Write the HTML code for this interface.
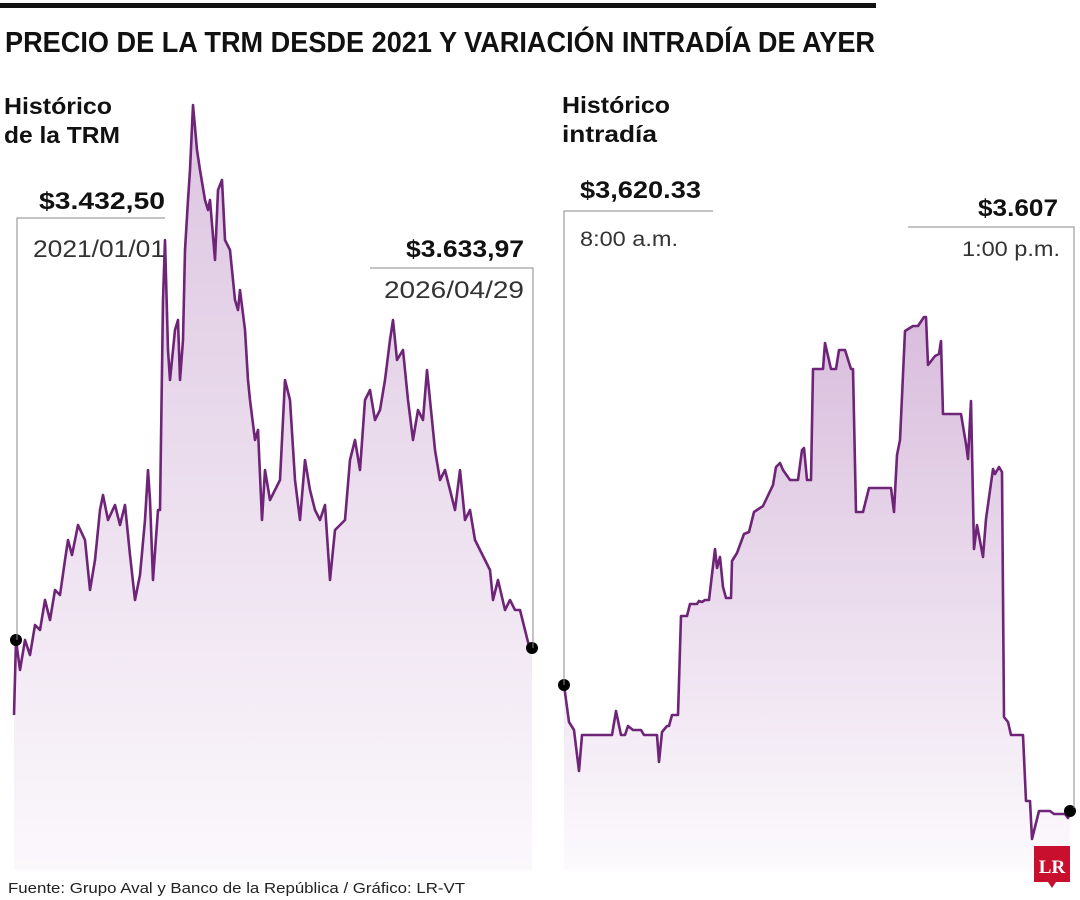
<!DOCTYPE html>
<html><head><meta charset="utf-8"><style>
body{margin:0;background:#fff}
svg{display:block}
text{font-family:"Liberation Sans",sans-serif}
</style></head><body>
<svg id="c" width="1080" height="900" viewBox="0 0 1080 900">
<defs>
<linearGradient id="gl" gradientUnits="userSpaceOnUse" x1="0" y1="100" x2="0" y2="870"><stop offset="0" stop-color="#dcc4e0"/><stop offset="1" stop-color="#fbf8fc"/></linearGradient>
<linearGradient id="gr" gradientUnits="userSpaceOnUse" x1="0" y1="310" x2="0" y2="870"><stop offset="0" stop-color="#d8bcdc"/><stop offset="1" stop-color="#fcfafd"/></linearGradient>
</defs>
<rect x="0" y="3" width="876" height="5" fill="#111"/>
<text x="5" y="52" font-size="29" font-weight="bold" fill="#111" textLength="870" lengthAdjust="spacingAndGlyphs" style="font-family:'Liberation Sans Narrow','Liberation Sans',sans-serif">PRECIO DE LA TRM DESDE 2021 Y VARIACIÓN INTRADÍA DE AYER</text>
<g font-size="23" font-weight="bold" fill="#111">
<text x="4" y="114" textLength="108" lengthAdjust="spacingAndGlyphs">Histórico</text><text x="4" y="143" textLength="116" lengthAdjust="spacingAndGlyphs">de la TRM</text></g>
<g font-size="23" font-weight="bold" fill="#111">
<text x="562" y="113" textLength="108" lengthAdjust="spacingAndGlyphs">Histórico</text><text x="562" y="142" textLength="95" lengthAdjust="spacingAndGlyphs">intradía</text></g>
<g id="left"></g>
<g id="right"></g>
<g stroke="#888" stroke-width="1" fill="none">
<polyline points="17,640 17,218 165,218"/>
<polyline points="370,268 533,268 533,648"/>
<polyline points="564,685 564,211 713,211"/>
<polyline points="908,227 1074,227 1074,808"/>
</g>
<g fill="#111">
<text x="165" y="209" font-size="24" font-weight="bold" text-anchor="end" textLength="126" lengthAdjust="spacingAndGlyphs">$3.432,50</text>
<text x="165" y="257" font-size="24" text-anchor="end" fill="#333" textLength="132" lengthAdjust="spacingAndGlyphs">2021/01/01</text>
<text x="524" y="257" font-size="24" font-weight="bold" text-anchor="end" textLength="118" lengthAdjust="spacingAndGlyphs">$3.633,97</text>
<text x="524" y="298" font-size="24" text-anchor="end" fill="#333" textLength="140" lengthAdjust="spacingAndGlyphs">2026/04/29</text>
<text x="580" y="198" font-size="24" font-weight="bold" textLength="121" lengthAdjust="spacingAndGlyphs">$3,620.33</text>
<text x="580" y="246" font-size="21" fill="#333" textLength="98" lengthAdjust="spacingAndGlyphs">8:00 a.m.</text>
<text x="1058" y="216" font-size="24" font-weight="bold" text-anchor="end" textLength="80" lengthAdjust="spacingAndGlyphs">$3.607</text>
<text x="1060" y="256" font-size="21" text-anchor="end" fill="#333" textLength="98" lengthAdjust="spacingAndGlyphs">1:00 p.m.</text>
<text x="8" y="893" font-size="15" fill="#222" textLength="457" lengthAdjust="spacingAndGlyphs">Fuente: Grupo Aval y Banco de la República / Gráfico: LR-VT</text>
</g>
<g>
<rect x="1034" y="846" width="36" height="36" fill="#c8102e"/>
<polygon points="1048,882 1052,888 1056,882" fill="#c8102e"/>
<text x="1052" y="873" font-size="19" font-weight="bold" fill="#fff" text-anchor="middle" style="font-family:'Liberation Serif',serif">LR</text>
</g>
</svg>
<script>
const histT=[0,2,6,11,16,21,26,31,36,41,46,51,54,58,64,71,76,81,86,89,94,101,106,111,116,121,126,131,134,136,139,144,146,149,151,154,156,161,164,166,169,171,174,176,179,183,186,191,194,196,201,204,208,211,216,221,224,226,231,234,236,241,244,248,251,256,261,266,269,271,276,281,286,291,296,301,306,311,316,321,331,336,341,346,351,356,361,366,371,376,379,383,389,394,399,404,409,413,416,421,426,431,436,441,446,451,456,461,466,471,476,479,484,491,496,501,506,511,516,518];
const histV=[3205,3430,3340,3430,3385,3475,3460,3550,3490,3580,3565,3670,3730,3685,3775,3730,3580,3670,3820,3865,3790,3835,3775,3835,3685,3550,3625,3790,3940,3850,3610,3820,3820,4450,4630,4300,4210,4360,4390,4210,4330,4600,4750,4840,5035,4900,4840,4750,4720,4750,4570,4780,4810,4630,4600,4450,4420,4480,4360,4210,4150,4030,4060,3790,3940,3850,3880,3910,4090,4210,4150,3910,3790,3970,3880,3820,3790,3835,3610,3760,3790,3970,4030,3940,4150,4180,4090,4120,4210,4330,4390,4270,4300,4150,4030,4120,4090,4240,4150,4000,3910,3940,3880,3820,3940,3790,3820,3730,3700,3670,3640,3550,3610,3520,3550,3520,3520,3460,3400,3406];
const dayT=[0,3,6,9,10.8,28.8,31.2,34.2,36.6,38.4,41.4,46.2,48,55.8,57,58.8,61.8,63,64.8,68.4,70.2,73.8,75.6,79.8,81,82.8,84.6,87,90.6,91.8,93.6,95.4,97.2,100.2,100.8,103.8,108,111,114,119.4,125.4,127.2,129.6,131.4,135.6,140.4,142.8,144,145.8,148.2,149.4,155.4,156.6,160.2,163.2,165,168.6,172.2,173.4,175.2,179.4,183,196.2,198,199.8,201.6,204.6,209.4,212.4,216,217.2,218.4,222.6,225,226.2,227.4,238.2,241.2,242.4,244.2,246,247.8,251.4,253.2,257.4,258.6,261,262.8,264,266.4,268.2,275.4,277.2,279.6,280.8,285,291.6,294,300.6,302.4,303.6];
const dayV=[3620.0,3616.3,3615.5,3611.4,3615.0,3615.0,3617.4,3615.0,3615.0,3615.9,3615.5,3615.5,3615.0,3615.0,3612.3,3615.3,3615.9,3615.9,3617.0,3617.0,3626.9,3626.9,3628.1,3628.1,3628.4,3628.3,3628.5,3628.5,3633.6,3631.7,3632.8,3629.8,3628.7,3628.7,3632.4,3633.2,3635.1,3635.3,3637.3,3637.9,3640.0,3641.8,3642.2,3641.5,3640.5,3640.5,3643.5,3643.7,3640.5,3640.5,3651.6,3651.6,3654.2,3651.6,3651.6,3653.5,3653.5,3651.6,3651.6,3637.3,3637.3,3639.7,3639.7,3637.3,3643.0,3644.5,3655.4,3655.9,3655.9,3656.8,3656.8,3652.0,3652.9,3653.1,3654.4,3647.1,3647.1,3644.1,3642.6,3648.4,3633.6,3636.0,3632.8,3636.6,3641.6,3641.1,3641.8,3641.3,3616.8,3616.3,3615.0,3615.0,3608.4,3608.4,3604.6,3607.4,3607.4,3607.1,3607.1,3606.7,3607.4];

const NS='http://www.w3.org/2000/svg';
function lin(d0,d1,r0,r1){return v=>r0+(v-d0)*(r1-r0)/(d1-d0);}
function draw(gid,T,V,xs,ys,grad,base,nm,startIdx){
  const g=document.getElementById(gid);
  const pts=T.map((t,i)=>xs(t).toFixed(1)+','+ys(V[i]).toFixed(1));
  const area=document.createElementNS(NS,'polygon');
  area.setAttribute('points',pts.join(' ')+' '+xs(T[T.length-1]).toFixed(1)+','+base+' '+xs(T[0]).toFixed(1)+','+base);
  area.setAttribute('fill','url(#'+grad+')');
  
  
  g.appendChild(area);
  const ln=document.createElementNS(NS,'polyline');
  ln.setAttribute('points',pts.join(' '));
  ln.setAttribute('fill','none');ln.setAttribute('stroke','#6e2477');ln.setAttribute('stroke-width','2.6');ln.setAttribute('stroke-linejoin','round');
  
  
  g.appendChild(ln);
  [startIdx,T.length-1].forEach(i=>{
    const c=document.createElementNS(NS,'circle');
    c.setAttribute('cx',xs(T[i]));c.setAttribute('cy',ys(V[i]));c.setAttribute('r','6');c.setAttribute('fill','#000');
    
    
    g.appendChild(c);
  });
}
draw('left',histT,histV,lin(0,518,14,532),lin(3430,5035,640,105),'gl',870,'historic',1);
draw('right',dayT,dayV,lin(0,303.6,564,1070),lin(3620,3656.8,685,317),'gr',870,'intraday',0);
</script>
</body></html>
